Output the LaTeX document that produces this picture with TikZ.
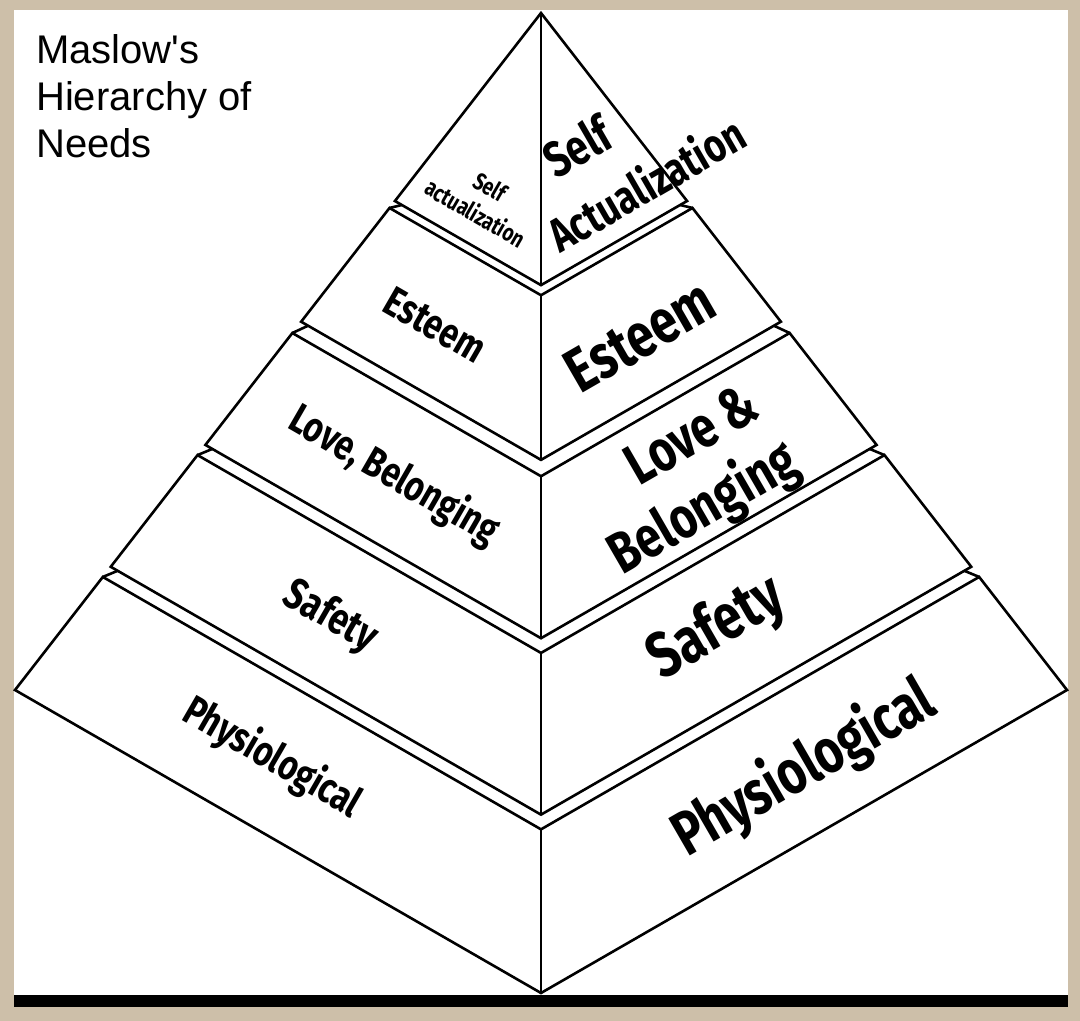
\documentclass[tikz,border=0pt]{standalone}
\usepackage{fontspec}
\setmainfont{Liberation Sans}
\newfontfamily\condf[FakeStretch=0.78]{Fira Sans}
\usetikzlibrary{calc}
\definecolor{beige}{HTML}{CDBFA9}
\begin{document}
\begin{tikzpicture}[x=1pt,y=-1pt,
  edge/.style={draw=black, line width=2.6pt, line join=miter},
  fs/.style 2 args={font=\condf\bfseries\fontsize{#1}{#2}\selectfont},
  lab/.style={inner sep=0pt, align=center, text=black},
  labL/.style={lab, rotate=-30},
  labR/.style={lab, rotate=30},
  title/.style={font=\fontsize{40}{47}\selectfont, align=left, inner sep=0pt, anchor=north west}
]
\useasboundingbox (0,0) rectangle (1080,1021);
\fill[beige] (0,0) rectangle (1080,1021);
\fill[white] (14,10) rectangle (1068,995);
\fill[black] (14,995) rectangle (1068,1007);

\coordinate (A) at (541,13);
\coordinate (BL) at (15,690);
\coordinate (BR) at (1067,690);
\coordinate (BC) at (541,993);

% layer corners
\foreach \i/\ta/\tb in {1/0/0.2777, 2/0.288/0.456, 3/0.4727/0.638, 4/0.653/0.818, 5/0.833/1}{
  \coordinate (lt\i) at ($(A)!\ta!(BL)$);
  \coordinate (ct\i) at ($(A)!\ta!(BC)$);
  \coordinate (rt\i) at ($(A)!\ta!(BR)$);
  \coordinate (lb\i) at ($(A)!\tb!(BL)$);
  \coordinate (cb\i) at ($(A)!\tb!(BC)$);
  \coordinate (rb\i) at ($(A)!\tb!(BR)$);
}

% top layer
\draw[edge] (A) -- (rb1) -- (cb1) -- (lb1) -- cycle;
\draw[edge] (A) -- (cb1);
% other layers
\foreach \i in {2,3,4,5}{
  \draw[edge] (lt\i) -- (ct\i) -- (rt\i) -- (rb\i) -- (cb\i) -- (lb\i) -- cycle;
  \draw[edge] (ct\i) -- (cb\i);
}
% small joints between layers
\foreach \i/\j in {1/2, 2/3, 3/4, 4/5}{
  \draw[edge] ($(lb\i)!8pt!(cb\i)$) -- (lt\j);
  \draw[edge] ($(rb\i)!8pt!(cb\i)$) -- (rt\j);
}

% title
\node[title] (ttl) at (36,34.5) {Maslow\textquotesingle s\\Hierarchy of\\Needs};

% left face labels
\node[labL, fs={24}{30}] (saL) at (483,200) {Self\\actualization};
\node[labL, fs={42}{48}] (esL) at (435,325) {Esteem};
\node[labL, fs={42}{48}] (lbL) at (394,476) {Love, Belonging};
\node[labL, fs={44}{48}] (sfL) at (330,617) {Safety};
\node[labL, fs={42}{48}] (phL) at (272,758) {Physiological};

% right face labels
\node[labR, fs={50}{56}, anchor=base west] (saR1) at (556,180) {Self};
\node[labR, fs={47}{56}, anchor=base west] (saR2) at (560,254) {Actualization};
\node[labR, fs={62}{70}] (esR) at (640,336) {Esteem};
\node[labR, fs={58}{70}] (lbR1) at (691,434) {Love \&};
\node[labR, fs={58}{70}] (lbR2) at (704,509) {Belonging};
\node[labR, fs={64}{70}] (sfR) at (717,629) {Safety};
\node[labR, fs={62}{70}] (phR) at (804,769) {Physiological};
\end{tikzpicture}
\end{document}
